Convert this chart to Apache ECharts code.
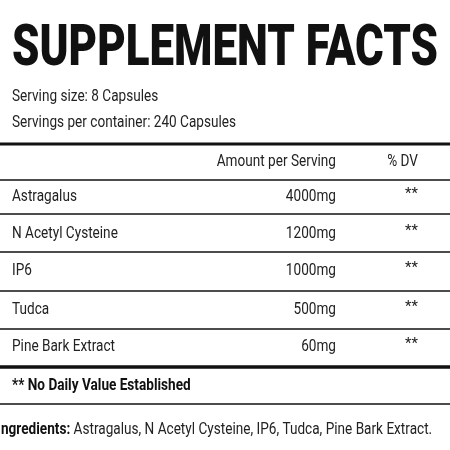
<!DOCTYPE html>
<html><head><meta charset="utf-8">
<script src="https://cdn.jsdelivr.net/npm/echarts@6/dist/echarts.min.js"></script>
<style>html,body{margin:0;padding:0;background:#fff}#c{width:450px;height:450px}</style>
</head><body><div id="c"></div>
<script>
const titleText = "SUPPLEMENT FACTS";
const servingLines = ["Serving size: 8 Capsules", "Servings per container: 240 Capsules"];
const headers = ["Amount per Serving", "% DV"];
const ingredients = ["Astragalus", "N Acetyl Cysteine", "IP6", "Tudca", "Pine Bark Extract"];
const amounts = ["4000mg", "1200mg", "1000mg", "500mg", "60mg"];
const dv = ["**", "**", "**", "**", "**"];
const footnote = "** No Daily Value Established";
const ingLabel = "Ingredients:";
const ingList = " Astragalus, N Acetyl Cysteine, IP6, Tudca, Pine Bark Extract.";

function measure(t, font){const c=document.createElement('canvas').getContext('2d');c.font=font;return c.measureText(t).width;}
const SX = 0.8;
const bodyFont = '400 17px Roboto';
const els = [];
function txt(x,y,t,opt){opt=opt||{};
  const font=opt.font||bodyFont;
  els.push({type:'text',x:x,y:y,scaleX:opt.sx||SX,originX:0,originY:0,
    style:{text:t,font:font,fill:opt.fill||'#222',textAlign:opt.align||'left',textVerticalAlign:'middle'}});
}
function line(y,h){els.push({type:'rect',shape:{x:0,y:y-h/2,width:450,height:h},style:{fill:'#111'}});}
const tFont='900 58px Roboto';
const tw=measure(titleText,tFont);
els.push({type:'text',x:12,y:50,scaleX:426/tw,originX:0,originY:0,style:{text:titleText,font:tFont,fill:'#111',textVerticalAlign:'middle'}});
txt(12,97,servingLines[0]);
txt(12,123,servingLines[1]);
line(144,3);
txt(336,162,headers[0],{align:'right'});
txt(418,162,headers[1],{align:'right'});
line(180,1.5);
const rowYs=[197,234,271,310,347];
const lineYs=[214,252,291,329];
ingredients.forEach((n,i)=>{
  const y=rowYs[i];
  txt(12,y,n);
  txt(336,y,amounts[i],{align:'right'});
  txt(418,y-3,dv[i],{align:'right',font:'400 15px Roboto',sx:1});
});
lineYs.forEach(y=>line(y,1.5));
line(367,3.5);
txt(12,386,footnote,{font:'700 17px Roboto',fill:'#111'});
line(404,1.5);
const lf='700 17px Roboto';
const lw=measure(ingLabel,lf)*SX;
txt(-3,430,ingLabel,{font:lf,fill:'#111'});
txt(-3+lw,430,ingList);
const chart=echarts.init(document.getElementById('c'));
chart.setOption({backgroundColor:'#fff',graphic:{elements:els}});
</script></body></html>
